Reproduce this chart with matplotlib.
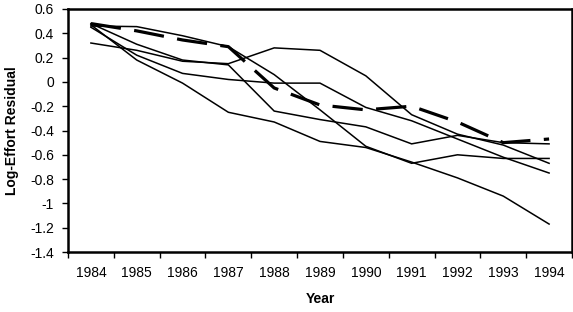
import matplotlib
matplotlib.use("Agg")
import matplotlib.pyplot as plt
import numpy as np

years = ["1984", "1985", "1986", "1987", "1988", "1989", "1990", "1991", "1992", "1993", "1994"]

series_a = [0.46, 0.455, 0.38, 0.29, 0.06, -0.23, -0.53, -0.67, -0.60, -0.63, -0.63]
series_b = [0.47, 0.18, -0.01, -0.25, -0.33, -0.49, -0.54, -0.66, -0.79, -0.94, -1.17]
series_c = [0.45, 0.22, 0.07, 0.02, -0.01, -0.01, -0.21, -0.32, -0.47, -0.62, -0.75]
series_d = [0.32, 0.26, 0.17, 0.15, 0.28, 0.26, 0.05, -0.27, -0.43, -0.52, -0.67]
series_e = [0.48, 0.31, 0.18, 0.14, -0.24, -0.31, -0.37, -0.51, -0.44, -0.50, -0.51]
series_mean = [0.48, 0.42, 0.345, 0.29, -0.05, -0.19, -0.23, -0.20, -0.33, -0.50, -0.47]

yticks = [0.6, 0.4, 0.2, 0, -0.2, -0.4, -0.6, -0.8, -1, -1.2, -1.4]
ytick_labels = ["0.6", "0.4", "0.2", "0", "-0.2", "-0.4", "-0.6", "-0.8", "-1", "-1.2", "-1.4"]

plt.rcParams['font.family'] = ['Liberation Sans', 'DejaVu Sans']

fig = plt.figure(figsize=(5.73, 3.12), dpi=100)
ax = fig.add_axes([68/573, 1-252/312, 504/573, 243/312])

x = np.arange(len(years))
for s in [series_a, series_b, series_c, series_d, series_e]:
    ax.plot(x, s, color='black', lw=1.1, solid_joinstyle='miter')
ax.plot(x, series_mean, color='black', lw=2.3, dashes=(9.5, 4.2))

ax.set_xlim(-0.5, len(years) - 0.5)
ax.set_ylim(-1.4, 0.6)
ax.set_yticks(yticks)
ax.set_yticklabels(ytick_labels, fontsize=10)
ax.set_xticks(np.arange(-0.5, len(years), 1.0))
ax.set_xticklabels([])
ax.set_xticks(x, minor=True)
ax.set_xticklabels(years, minor=True, fontsize=10)
ax.tick_params(axis='x', which='major', length=4, width=1, direction='out', color='black')
ax.tick_params(axis='x', which='minor', length=0, pad=10)
ax.tick_params(axis='y', length=4, width=1, direction='out', pad=6)

for sp in ax.spines.values():
    sp.set_linewidth(1.8)
    sp.set_color('black')

ax.set_xlabel("Year", fontsize=10, fontweight='bold', labelpad=9)
ax.set_ylabel("Log-Effort Residual", fontsize=10, fontweight='bold', labelpad=8)

fig.savefig("out.png", dpi=100)
